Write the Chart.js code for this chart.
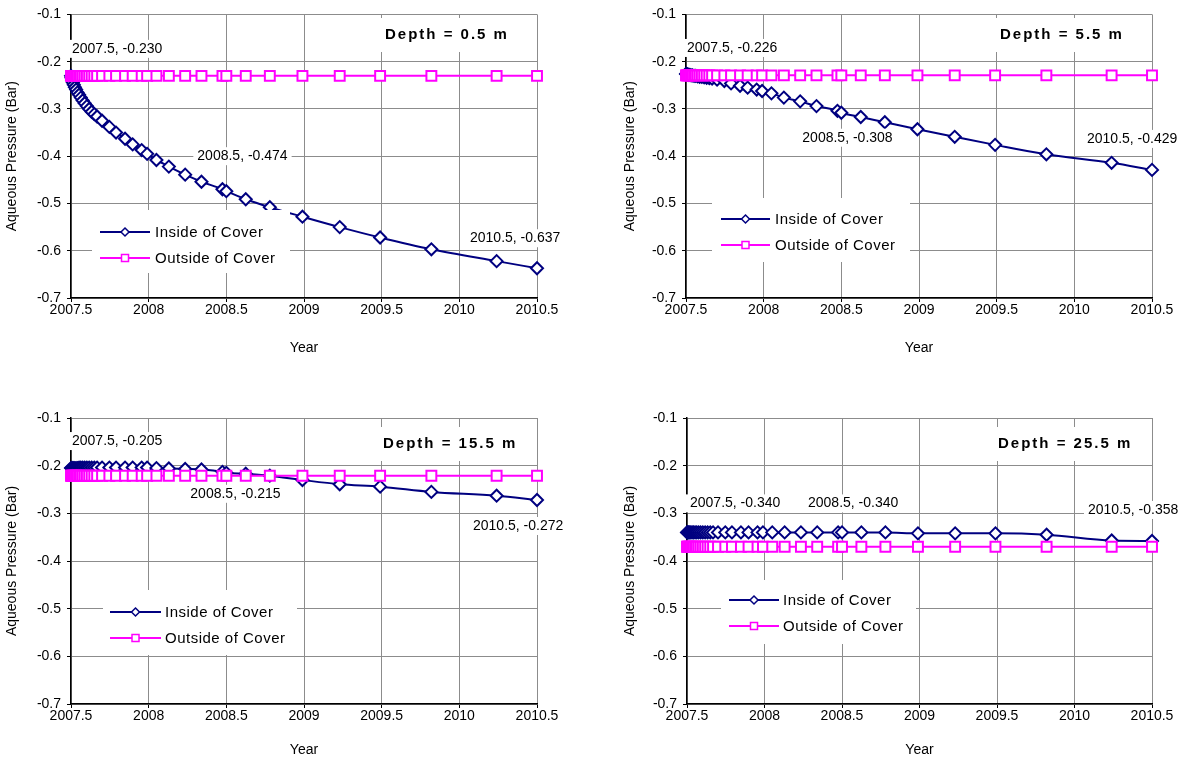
<!DOCTYPE html>
<html>
<head>
<meta charset="utf-8">
<script src="https://cdn.jsdelivr.net/npm/chart.js@4.4.1/dist/chart.umd.min.js"></script>
<style>
  body { margin: 0; background: #fff; width: 1179px; height: 761px; position: relative; overflow: hidden; }
  canvas { position: absolute; }
</style>
</head>
<body>
<canvas id="c0" width="590" height="380" style="left:0;top:0"></canvas>
<canvas id="c1" width="589" height="380" style="left:590px;top:0"></canvas>
<canvas id="c2" width="590" height="381" style="left:0;top:380px"></canvas>
<canvas id="c3" width="589" height="381" style="left:590px;top:380px"></canvas>
<script>
// model output times (year) shared by all depths
const years = [2007.5, 2007.503, 2007.507, 2007.512, 2007.518, 2007.525, 2007.533, 2007.542, 2007.552, 2007.563,
  2007.575, 2007.588, 2007.602, 2007.617, 2007.633, 2007.65, 2007.668, 2007.7, 2007.747, 2007.79,
  2007.848, 2007.897, 2007.955, 2007.99, 2008.05, 2008.13, 2008.235, 2008.34, 2008.475, 2008.5,
  2008.625, 2008.78, 2008.99, 2009.23, 2009.49, 2009.82, 2010.24, 2010.5];

// aqueous pressure (bar), inside of cover
const inside05 = [-0.230, -0.234, -0.239, -0.244, -0.249, -0.254, -0.259, -0.265, -0.270, -0.276,
  -0.282, -0.288, -0.294, -0.300, -0.306, -0.311, -0.316, -0.325, -0.338, -0.350,
  -0.363, -0.375, -0.387, -0.395, -0.408, -0.422, -0.439, -0.454, -0.470, -0.474,
  -0.491, -0.508, -0.528, -0.550, -0.572, -0.597, -0.622, -0.637];
const inside55 = [-0.226, -0.226, -0.227, -0.227, -0.228, -0.228, -0.229, -0.229, -0.230, -0.230,
  -0.231, -0.232, -0.232, -0.233, -0.234, -0.235, -0.236, -0.238, -0.241, -0.246,
  -0.251, -0.255, -0.259, -0.262, -0.267, -0.276, -0.284, -0.294, -0.304, -0.308,
  -0.317, -0.328, -0.343, -0.359, -0.376, -0.396, -0.414, -0.429];
const inside155 = [-0.205, -0.205, -0.205, -0.205, -0.205, -0.205, -0.205, -0.205, -0.204, -0.204,
  -0.204, -0.204, -0.204, -0.204, -0.204, -0.204, -0.204, -0.204, -0.204, -0.204,
  -0.204, -0.204, -0.204, -0.204, -0.205, -0.206, -0.207, -0.208, -0.213, -0.215,
  -0.217, -0.221, -0.230, -0.239, -0.244, -0.255, -0.263, -0.272];
const inside255 = [-0.340, -0.340, -0.340, -0.340, -0.340, -0.340, -0.340, -0.340, -0.340, -0.340,
  -0.340, -0.340, -0.340, -0.340, -0.340, -0.340, -0.340, -0.340, -0.340, -0.340,
  -0.340, -0.340, -0.340, -0.340, -0.340, -0.340, -0.340, -0.340, -0.340, -0.340,
  -0.340, -0.340, -0.342, -0.342, -0.342, -0.345, -0.357, -0.358];

// outside of cover (flat)
const outside05 = years.map(() => -0.230);
const outside55 = years.map(() => -0.229);
const outside155 = years.map(() => -0.221);
const outside255 = years.map(() => -0.370);

const depths = ['0.5', '5.5', '15.5', '25.5'];
const seriesNames = ['Inside of Cover', 'Outside of Cover'];
const xTicks = [2007.5, 2008, 2008.5, 2009, 2009.5, 2010, 2010.5];
const yTicks = [-0.7, -0.6, -0.5, -0.4, -0.3, -0.2, -0.1];
const labelIdx = [0, 29, 37]; // points that carry a value label

const FONT = '"Liberation Sans", Arial, sans-serif';
const NAVY = '#000080';
const PINK = '#FF00FF';

Chart.defaults.font.family = FONT;
Chart.defaults.font.size = 14;
Chart.defaults.color = '#000';
Chart.defaults.animation = false;

const panels = [
  { id: 'c0', inside: inside05, outside: outside05, pad: { left: 0, top: 13, right: 53, bottom: 0 }, yW: 71, xH: 82, xTitlePad: 23.6,
    legend: { box: [92, 210, 198, 63], line: [100, 150], text: 155, rows: [232, 258] }, depthPos: [385, 35],
    offs: [[1, -27], [-29, -35], [-67, -30]] },
  { id: 'c1', inside: inside55, outside: outside55, pad: { left: 28, top: 12, right: 27, bottom: 0 }, yW: 68, xH: 82, xTitlePad: 23.6,
    legend: { box: [122, 198, 198, 64], line: [131, 180], text: 185, rows: [219, 245] }, depthPos: [410, 35],
    offs: [[1, -26], [-39, 25], [-65, -31]] },
  { id: 'c2', inside: inside155, outside: outside155, pad: { left: 0, top: 38, right: 53, bottom: 0 }, yW: 71, xH: 57, xTitlePad: 2.6,
    legend: { box: [103, 210, 194, 65], line: [110, 161], text: 165, rows: [232, 258] }, depthPos: [383, 64],
    offs: [[1, -27], [-36, 21], [-64, 26]] },
  { id: 'c3', inside: inside255, outside: outside255, pad: { left: 28, top: 38, right: 27, bottom: 0 }, yW: 69, xH: 57, xTitlePad: 2.6,
    legend: { box: [131, 200, 195, 64], line: [139, 189], text: 193, rows: [220, 246] }, depthPos: [408, 64],
    offs: [[3, -29], [-34, -29], [-64, -31]] },
];

function diamond(ctx, x, y, r) {
  ctx.beginPath();
  ctx.moveTo(x, y - r); ctx.lineTo(x + r, y); ctx.lineTo(x, y + r); ctx.lineTo(x - r, y); ctx.closePath();
  ctx.fill(); ctx.stroke();
}
function square(ctx, x, y, r) {
  ctx.beginPath();
  ctx.rect(x - r, y - r, 2 * r, 2 * r);
  ctx.fill(); ctx.stroke();
}

const overlay = {
  id: 'overlay',
  afterDraw(chart, args, opts) {
    const p = opts.panel;
    const ctx = chart.ctx;
    const xs = chart.scales.x, ys = chart.scales.y;
    ctx.save();
    ctx.textBaseline = 'middle';
    ctx.textAlign = 'left';

    // value labels on the inside series
    ctx.font = '14px ' + FONT;
    labelIdx.forEach((idx, k) => {
      const px = xs.getPixelForValue(years[idx]);
      const py = ys.getPixelForValue(p.inside[idx]);
      const txt = years[idx].toFixed(1) + ', ' + p.inside[idx].toFixed(3);
      const tx = px + p.offs[k][0], ty = py + p.offs[k][1];
      const w = ctx.measureText(txt).width;
      ctx.fillStyle = '#fff';
      ctx.fillRect(tx - 4, ty - 9, w + 8, 18);
      ctx.fillStyle = '#000';
      ctx.fillText(txt, tx, ty);
    });

    // depth caption
    ctx.font = 'bold 15px ' + FONT;
    ctx.letterSpacing = '2px';
    const dTxt = 'Depth = ' + p.depth + ' m';
    const dw = ctx.measureText(dTxt).width;
    ctx.fillStyle = '#fff';
    ctx.fillRect(p.depthPos[0] - 5, p.depthPos[1] - 17, dw + 10, 34);
    ctx.fillStyle = '#000';
    ctx.fillText(dTxt, p.depthPos[0], p.depthPos[1]);

    // legend
    const L = p.legend;
    ctx.fillStyle = '#fff';
    ctx.fillRect(L.box[0], L.box[1], L.box[2], L.box[3]);
    ctx.font = '15px ' + FONT;
    ctx.letterSpacing = '0.5px';
    chart.data.datasets.forEach((ds, i) => {
      const y = L.rows[i];
      ctx.strokeStyle = ds.borderColor;
      ctx.lineWidth = 2;
      ctx.beginPath(); ctx.moveTo(L.line[0], y); ctx.lineTo(L.line[1], y); ctx.stroke();
      ctx.fillStyle = '#fff';
      ctx.lineWidth = 1.5;
      const cx = (L.line[0] + L.line[1]) / 2;
      if (ds.pointStyle === 'rectRot') diamond(ctx, cx, y, 4); else square(ctx, cx, y, 3.5);
      ctx.fillStyle = '#000';
      ctx.fillText(ds.label, L.text, y + 1);
    });
    ctx.restore();
  }
};

panels.forEach((p, n) => {
  p.depth = depths[n];
  new Chart(document.getElementById(p.id), {
    type: 'line',
    data: {
      datasets: [
        {
          label: seriesNames[0],
          data: years.map((x, i) => ({ x: x, y: p.inside[i] })),
          borderColor: NAVY, borderWidth: 2,
          pointStyle: 'rectRot', pointRadius: 6, pointBorderWidth: 2,
          pointBackgroundColor: '#fff', pointBorderColor: NAVY,
          cubicInterpolationMode: 'monotone', clip: false, order: 1,
        },
        {
          label: seriesNames[1],
          data: years.map((x, i) => ({ x: x, y: p.outside[i] })),
          borderColor: PINK, borderWidth: 2,
          pointStyle: 'rect', pointRadius: 7, pointBorderWidth: 2,
          pointBackgroundColor: '#fff', pointBorderColor: PINK,
          clip: false, order: 0,
        },
      ],
    },
    plugins: [overlay],
    options: {
      responsive: false,
      events: [],
      layout: { padding: p.pad },
      plugins: {
        legend: { display: false },
        tooltip: { enabled: false },
        overlay: { panel: p },
      },
      scales: {
        x: {
          type: 'linear', min: 2007.5, max: 2010.5,
          afterBuildTicks: (s) => { s.ticks = xTicks.map((v) => ({ value: v })); },
          afterFit: (s) => { s.height = p.xH; },
          ticks: { callback: (v) => String(v), padding: 0, maxRotation: 0, autoSkip: false },
          grid: { color: '#8c8c8c', lineWidth: 1, tickColor: '#000', tickLength: 4 },
          border: { color: '#000', width: 1.5 },
          title: { display: true, text: 'Year', padding: { top: 0, bottom: p.xTitlePad } },
        },
        y: {
          min: -0.7, max: -0.1,
          afterBuildTicks: (s) => { s.ticks = yTicks.map((v) => ({ value: v })); },
          afterFit: (s) => { s.width = p.yW; },
          ticks: { callback: (v) => v.toFixed(1), padding: 6 },
          grid: { color: '#8c8c8c', lineWidth: 1, tickColor: '#000', tickLength: 4 },
          border: { color: '#000', width: 1.5 },
          title: { display: true, text: 'Aqueous Pressure (Bar)', padding: { top: 3.6, bottom: 0 } },
        },
      },
    },
  });
});
</script>
</body>
</html>
